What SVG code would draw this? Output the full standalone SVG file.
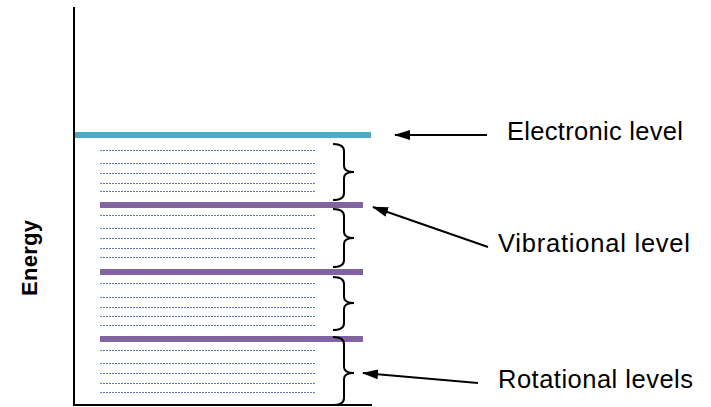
<svg xmlns="http://www.w3.org/2000/svg" width="711" height="407" viewBox="0 0 711 407">
<style>
.axis{stroke:#000;stroke-width:2;fill:none}
.elec{fill:#4BACC6}
.vib{fill:#8064A2}
.rot{stroke:#5A78B4;stroke-width:1;stroke-dasharray:2 1;fill:none}
.brace{stroke:#000;stroke-width:2;fill:none}
.arrow{stroke:#000;stroke-width:2;fill:none;marker-end:url(#ah)}
.lbl{font-family:"Liberation Sans",Arial,sans-serif;font-size:25.5px;fill:#000}
.ylbl{font-family:"Liberation Sans",Arial,sans-serif;font-size:22px;font-weight:bold;fill:#000}
</style>
<defs>
<marker id="ah" viewBox="0 0 16 10" refX="15" refY="5" markerWidth="16" markerHeight="10" markerUnits="userSpaceOnUse" orient="auto">
<path d="M0,0 L16,5 L0,10 Z" fill="#000"/>
</marker>
</defs>
<g id="axes">
<line class="axis" x1="74" y1="7" x2="74" y2="406"/>
<line class="axis" x1="73" y1="405" x2="372" y2="405"/>
<text class="ylbl" transform="translate(37,258) rotate(-90)" text-anchor="middle" textLength="76">Energy</text>
</g>
<g id="electronic-level"><rect class="elec" x="75" y="132" width="296" height="6"/></g>
<g id="vibrational-levels">
<rect class="vib" x="100" y="202" width="263" height="6"/>
<rect class="vib" x="100" y="269" width="263" height="6"/>
<rect class="vib" x="100" y="336" width="263" height="6"/>
</g>
<g id="rotational-levels">
<path class="rot" d="M100,150.5H315M100,163.5H315M100,173.5H315M100,183.5H315M100,191.5H315"/>
<path class="rot" d="M100,215.5H315M100,228.5H315M100,238.5H315M100,248.5H315M100,257.5H315"/>
<path class="rot" d="M100,283.5H315M100,297.5H315M100,307.5H315M100,316.5H315M100,325.5H315"/>
<path class="rot" d="M100,350.5H315M100,363.5H315M100,373.5H315M100,383.5H315M100,392.5H315"/>
</g>
<g id="braces">
<path class="brace" d="M333,144 Q344,144 344,151 L344,166 Q344,172 354,172 Q344,172 344,178 L344,193 Q344,200 333,200"/>
<path class="brace" d="M333,209 Q344,209 344,216 L344,232 Q344,238 354,238 Q344,238 344,244 L344,260 Q344,267 333,267"/>
<path class="brace" d="M333,277 Q344,277 344,284 L344,297 Q344,303 354,303 Q344,303 344,309 L344,323 Q344,330 333,330"/>
<path class="brace" d="M333,337 Q344,337 344,344 L344,367 Q344,373 354,373 Q344,373 344,379 L344,398 Q344,405 333,405"/>
</g>
<g id="connectors">
<line class="arrow" x1="487" y1="135" x2="395" y2="135"/>
<line class="arrow" x1="488" y1="247" x2="373" y2="207"/>
<line class="arrow" x1="478" y1="383" x2="363" y2="373"/>
</g>
<g id="label-electronic"><text class="lbl" x="507" y="140" textLength="176">Electronic level</text></g>
<g id="label-vibrational"><text class="lbl" x="498" y="252" textLength="192">Vibrational level</text></g>
<g id="label-rotational"><text class="lbl" x="498" y="388" textLength="195">Rotational levels</text></g>
</svg>
